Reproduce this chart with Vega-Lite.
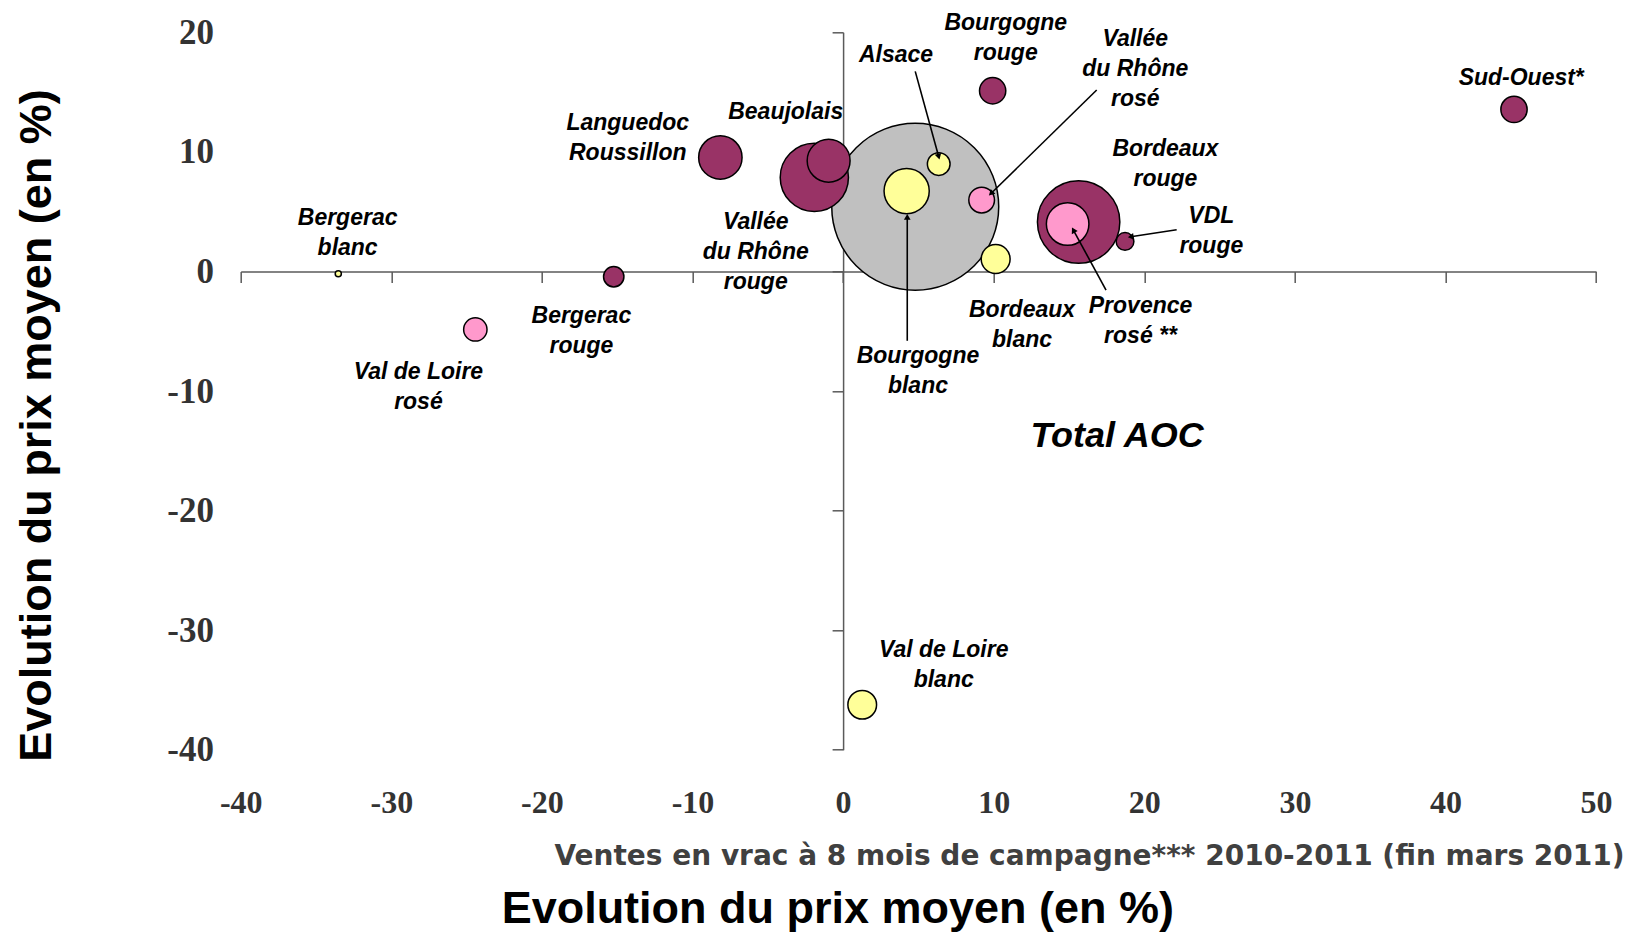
{
  "$schema": "https://vega.github.io/schema/vega-lite/v6.json",
  "width": 1355.4,
  "height": 717.4,
  "autosize": {"type": "none"},
  "padding": {"left": 240.7, "top": 32.3, "right": 36, "bottom": 185.3},
  "background": "white",
  "config": {"view": {"stroke": null}, "axis": {"grid": false}},
  "title": {
    "text": "Evolution du prix moyen (en %)",
    "orient": "bottom",
    "anchor": "middle",
    "frame": "group",
    "dx": -80.6,
    "offset": 17,
    "baseline": "top",
    "font": "Liberation Sans",
    "fontSize": 45,
    "fontWeight": "bold",
    "color": "#000000"
  },
  "datasets": {
    "bubbles": [
      {"name": "Total AOC", "type": "total", "ventes": 4.79, "prix": 5.41, "volume": 4437},
      {"name": "Bordeaux rouge", "type": "rouge", "ventes": 15.64, "prix": 4.13, "volume": 1081},
      {"name": "Vallée du Rhône rouge", "type": "rouge", "ventes": -1.91, "prix": 7.86, "volume": 741},
      {"name": "Bourgogne blanc", "type": "blanc", "ventes": 4.22, "prix": 6.72, "volume": 325},
      {"name": "Languedoc Roussillon", "type": "rouge", "ventes": -8.15, "prix": 9.53, "volume": 300},
      {"name": "Beaujolais", "type": "rouge", "ventes": -0.96, "prix": 9.26, "volume": 293},
      {"name": "Provence rosé", "type": "rosé", "ventes": 14.91, "prix": 3.96, "volume": 288},
      {"name": "Bordeaux blanc", "type": "blanc", "ventes": 10.13, "prix": 1.04, "volume": 133},
      {"name": "Val de Loire blanc", "type": "blanc", "ventes": 1.27, "prix": -36.24, "volume": 131},
      {"name": "Bourgogne rouge", "type": "rouge", "ventes": 9.93, "prix": 15.11, "volume": 110},
      {"name": "Sud-Ouest", "type": "rouge", "ventes": 44.55, "prix": 13.55, "volume": 110},
      {"name": "Vallée du Rhône rosé", "type": "rosé", "ventes": 9.2, "prix": 5.97, "volume": 105},
      {"name": "Val de Loire rosé", "type": "rosé", "ventes": -24.42, "prix": -4.85, "volume": 87},
      {"name": "Alsace", "type": "blanc", "ventes": 6.35, "prix": 8.98, "volume": 82},
      {"name": "Bergerac rouge", "type": "rouge", "ventes": -15.23, "prix": -0.44, "volume": 66},
      {"name": "VDL rouge", "type": "rouge", "ventes": 18.72, "prix": 2.51, "volume": 50},
      {"name": "Bergerac blanc", "type": "blanc", "ventes": -33.52, "prix": -0.19, "volume": 6}
    ],
    "labels": [
      {"label": "Bergerac\nblanc", "ventes": -32.9, "prix": 4.44},
      {"label": "Val de Loire\nrosé", "ventes": -28.2, "prix": -8.43},
      {"label": "Bergerac\nrouge", "ventes": -17.38, "prix": -3.75},
      {"label": "Languedoc\nRoussillon", "ventes": -14.3, "prix": 12.39},
      {"label": "Beaujolais", "ventes": -3.81, "prix": 13.33},
      {"label": "Vallée\ndu Rhône\nrouge", "ventes": -5.8, "prix": 4.17},
      {"label": "Alsace", "ventes": 3.51, "prix": 18.06},
      {"label": "Bourgogne\nrouge", "ventes": 10.8, "prix": 20.77},
      {"label": "Vallée\ndu Rhône\nrosé", "ventes": 19.4, "prix": 19.45},
      {"label": "Bordeaux\nrouge", "ventes": 21.4, "prix": 10.23},
      {"label": "VDL\nrouge", "ventes": 24.45, "prix": 4.64},
      {"label": "Provence\nrosé **", "ventes": 19.75, "prix": -2.93},
      {"label": "Bordeaux\nblanc", "ventes": 11.88, "prix": -3.23},
      {"label": "Bourgogne\nblanc", "ventes": 4.97, "prix": -7.1},
      {"label": "Sud-Ouest*", "ventes": 45.03, "prix": 16.2},
      {"label": "Val de Loire\nblanc", "ventes": 6.68, "prix": -31.67},
      {"label": "Total AOC", "ventes": 18.19, "prix": -13.8}
    ],
    "arrows": [
      {"name": "Alsace", "ventes": 6.35, "prix": 9.59, "ventes2": 4.79, "prix2": 16.73},
      {"name": "Vallée du Rhône rosé", "ventes": 9.82, "prix": 6.52, "ventes2": 16.84, "prix2": 15.17},
      {"name": "Bourgogne blanc", "ventes": 4.26, "prix": 4.57, "ventes2": 4.26, "prix2": -5.8},
      {"name": "Provence rosé", "ventes": 15.29, "prix": 3.46, "ventes2": 17.46, "prix2": -1.56},
      {"name": "VDL rouge", "ventes": 19.1, "prix": 2.9, "ventes2": 22.15, "prix2": 3.49}
    ]
  },
  "encoding": {
    "x": {
      "field": "ventes",
      "type": "quantitative",
      "scale": {"domain": [-40, 50], "nice": false, "zero": false},
      "axis": {
        "values": [-40, -30, -20, -10, 0, 10, 20, 30, 40, 50],
        "orient": "bottom",
        "offset": -478.3,
        "domainColor": "#5a5a5a",
        "domainWidth": 1.5,
        "tickColor": "#5a5a5a",
        "tickWidth": 1.5,
        "tickSize": 11,
        "labelPadding": 505.6,
        "labelFont": "Liberation Serif",
        "labelFontSize": 32,
        "labelFontWeight": "bold",
        "labelColor": "#333333",
        "labelFlush": false,
        "labelOverlap": false,
        "labelExpr": "'' + datum.value",
        "title": "Ventes en vrac à 8 mois de campagne*** 2010-2011 (fin mars 2011)",
        "titleFont": "DejaVu Sans",
        "titleFontSize": 28,
        "titleFontWeight": "bold",
        "titleColor": "#404040",
        "titleAlign": "right",
        "titleBaseline": "alphabetic",
        "titleX": 1383.3,
        "titleY": 593
      }
    },
    "y": {
      "field": "prix",
      "type": "quantitative",
      "scale": {"domain": [-40, 20], "nice": false, "zero": false},
      "axis": {
        "values": [-40, -30, -20, -10, 0, 10, 20],
        "orient": "left",
        "offset": -602.4,
        "domainColor": "#5a5a5a",
        "domainWidth": 1.5,
        "tickColor": "#5a5a5a",
        "tickWidth": 1.5,
        "tickSize": 11,
        "labelPadding": 618.7,
        "labelFont": "Liberation Serif",
        "labelFontSize": 35,
        "labelFontWeight": "bold",
        "labelColor": "#333333",
        "labelAlign": "right",
        "labelBaseline": "middle",
        "labelFlush": false,
        "labelOverlap": false,
        "labelExpr": "'' + datum.value",
        "title": "Evolution du prix moyen (en %)",
        "titleFont": "Liberation Sans",
        "titleFontSize": 45,
        "titleFontWeight": "bold",
        "titleColor": "#000000",
        "titleAngle": -90,
        "titleAlign": "center",
        "titleBaseline": "middle",
        "titleX": -806.9,
        "titleY": 392.7
      }
    }
  },
  "layer": [
    {
      "data": {"name": "bubbles"},
      "mark": {"type": "circle", "opacity": 1, "stroke": "#000000", "strokeWidth": 1.5},
      "encoding": {
        "size": {"field": "volume", "type": "quantitative", "scale": {"domain": [0, 4437], "range": [0, 27877]}, "legend": null},
        "color": {"field": "type", "type": "nominal", "scale": {"domain": ["rouge", "blanc", "rosé", "total"], "range": ["#993366", "#FFFF99", "#FF99CC", "#C0C0C0"]}, "legend": null},
        "order": {"field": "volume", "type": "quantitative", "sort": "descending"}
      }
    },
    {
      "data": {"name": "arrows"},
      "mark": {"type": "rule", "color": "#000000", "strokeWidth": 1.6},
      "encoding": {
        "x2": {"field": "ventes2"},
        "y2": {"field": "prix2"}
      }
    },
    {
      "data": {"name": "arrows"},
      "transform": [{"filter": "datum.name === 'Alsace'"}],
      "mark": {"type": "point", "shape": "triangle-up", "filled": true, "color": "#000000", "opacity": 1, "size": 45, "angle": 164.7},
      "encoding": {}
    },
    {
      "data": {"name": "arrows"},
      "transform": [{"filter": "datum.name === 'Vallée du Rhône rosé'"}],
      "mark": {"type": "point", "shape": "triangle-up", "filled": true, "color": "#000000", "opacity": 1, "size": 45, "angle": 225.6},
      "encoding": {}
    },
    {
      "data": {"name": "arrows"},
      "transform": [{"filter": "datum.name === 'Bourgogne blanc'"}],
      "mark": {"type": "point", "shape": "triangle-up", "filled": true, "color": "#000000", "opacity": 1, "size": 45, "angle": 0},
      "encoding": {}
    },
    {
      "data": {"name": "arrows"},
      "transform": [{"filter": "datum.name === 'Provence rosé'"}],
      "mark": {"type": "point", "shape": "triangle-up", "filled": true, "color": "#000000", "opacity": 1, "size": 45, "angle": 331.4},
      "encoding": {}
    },
    {
      "data": {"name": "arrows"},
      "transform": [{"filter": "datum.name === 'VDL rouge'"}],
      "mark": {"type": "point", "shape": "triangle-up", "filled": true, "color": "#000000", "opacity": 1, "size": 45, "angle": 261.3},
      "encoding": {}
    },
    {
      "data": {"name": "labels"},
      "transform": [{"filter": "datum.label !== 'Total AOC'"}],
      "mark": {"type": "text", "font": "Liberation Sans", "fontSize": 23, "fontStyle": "italic", "fontWeight": "bold", "lineBreak": "\n", "lineHeight": 30, "align": "center", "baseline": "middle", "color": "#000000"},
      "encoding": {"text": {"field": "label"}}
    },
    {
      "data": {"name": "labels"},
      "transform": [{"filter": "datum.label === 'Total AOC'"}],
      "mark": {"type": "text", "font": "Liberation Sans", "fontSize": 36, "fontStyle": "italic", "fontWeight": "bold", "align": "center", "baseline": "middle", "color": "#000000"},
      "encoding": {"text": {"field": "label"}}
    }
  ]
}
